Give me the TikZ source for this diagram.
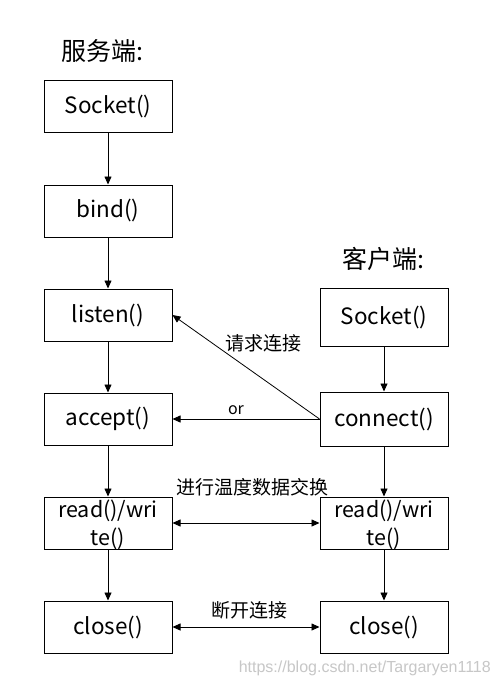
\documentclass[tikz,border=0pt]{standalone}
\usepackage{fontspec}
\setmainfont{Noto Sans CJK SC}
\newfontfamily\wmfont{Liberation Sans}
\usetikzlibrary{arrows.meta}
\begin{document}
\begin{tikzpicture}[x=1pt,y=-1pt,
 box/.style={draw,line width=1pt,minimum width=128pt,minimum height=52pt,inner sep=0pt,font=\fontsize{22.5}{26}\selectfont},
 arr/.style={-{Triangle[length=8pt,width=7pt]},line width=0.8pt},
 darr/.style={{Triangle[length=8pt,width=7pt]}-{Triangle[length=8pt,width=7pt]},line width=0.8pt},
 lab/.style={font=\fontsize{19}{22}\selectfont,inner sep=0pt},
 head/.style={font=\fontsize{25}{29}\selectfont,inner sep=0pt}]
\useasboundingbox (0,0) rectangle (499,687);
\fill[white] (0,0) rectangle (499,687);
% headings
\node[head] (hs) at (102,51) {服务端:};
\node[head] (hc) at (383,259) {客户端:};
% server column
\node[box] (sL) at (108,106.5) {Socket()};
\node[box] (bL) at (108,211) {bind()};
\node[box] (lL) at (108,315) {listen()};
\node[box] (aL) at (108,419) {accept()};
\node[box] (rL) at (108,523) {};
\node[align=center,inner sep=0pt,font=\fontsize{21.5}{28}\selectfont] (rLt) at (108,525) {read()/wri\\te()};
\node[box] (cL) at (108,627) {close()};
% client column
\node[box,minimum height=58pt] (sR) at (384,317) {Socket()};
\node[box,minimum height=54pt] (nR) at (384,419) {connect()};
\node[box] (rR) at (384,523) {};
\node[align=center,inner sep=0pt,font=\fontsize{21.5}{28}\selectfont] (rRt) at (384,525) {read()/wri\\te()};
\node[box] (cR) at (384,627) {close()};
% vertical arrows
\draw[arr] (sL) -- (bL);
\draw[arr] (bL) -- (lL);
\draw[arr] (lL) -- (aL);
\draw[arr] (aL) -- (rL);
\draw[arr] (rL) -- (cL);
\draw[arr] (sR) -- (nR);
\draw[arr] (nR) -- (rR);
\draw[arr] (rR) -- (cR);
% cross arrows
\draw[arr] (nR.west) -- (lL.east);
\draw[arr] (nR.west) -- (aL.east);
\draw[darr] (rL.east) -- (rR.west);
\draw[darr] (cL.east) -- (cR.west);
% labels
\node[lab] (q) at (263,343) {请求连接};
\node[lab,font=\fontsize{16}{19}\selectfont] (o) at (236,410) {or};
\node[lab] (j) at (252,487) {进行温度数据交换};
\node[lab] (d) at (249,610) {断开连接};
% watermark
\node[inner sep=0pt,anchor=east,text=black!22,font=\wmfont\fontsize{16}{19}\selectfont] (wm) at (491,668) {https://blog.csdn.net/Targaryen1118};
\end{tikzpicture}
\end{document}
